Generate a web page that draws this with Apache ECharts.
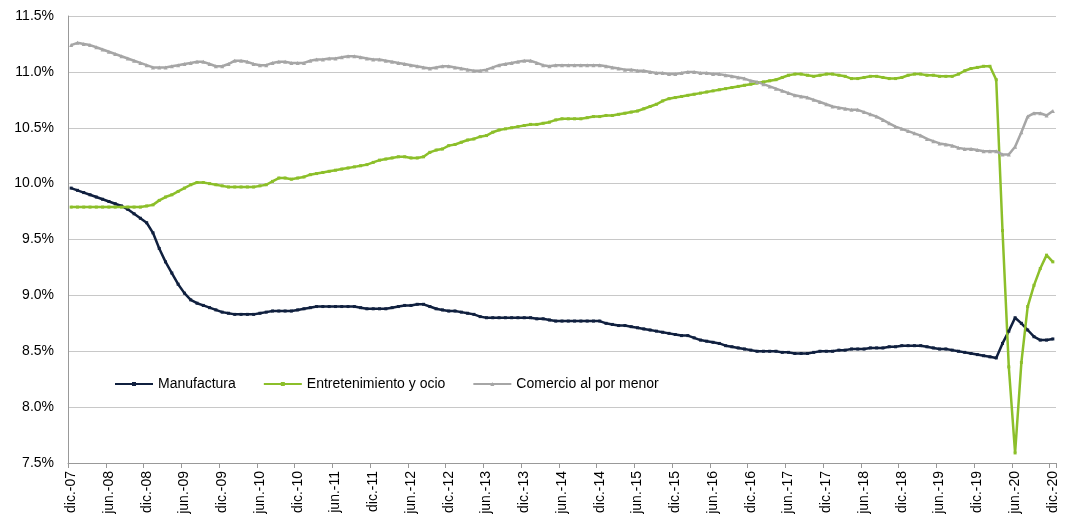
<!DOCTYPE html>
<html>
<head>
<meta charset="utf-8" />
<title>Sectores</title>
<script src="https://cdn.jsdelivr.net/npm/echarts@6/dist/echarts.min.js"></script>
<style>
  html, body { margin: 0; padding: 0; background: #fff; }
  #main { width: 1073px; height: 518px; }
</style>
</head>
<body>
<div id="main"></div>
<script>
// meses y años del eje (dic.-07 .. dic.-20)
const monthNames = ['ene.', 'feb.', 'mar.', 'abr.', 'may.', 'jun.', 'jul.', 'ago.', 'sep.', 'oct.', 'nov.', 'dic.'];
const years = ['08', '09', '10', '11', '12', '13', '14', '15', '16', '17', '18', '19', '20'];
const categories = ['dic.-07'];
years.forEach(y => monthNames.forEach(m => categories.push(m + '-' + y)));

const seriesNames = ['Manufactura', 'Entretenimiento y ocio', 'Comercio al por menor'];

// % del total
const manufactura = [
  9.96, 9.94, 9.92, 9.90, 9.88, 9.86, 9.84, 9.82, 9.80, 9.77, 9.73, 9.69, 9.65,
  9.56, 9.42, 9.30, 9.20, 9.10, 9.02, 8.96, 8.93, 8.91, 8.89, 8.87, 8.85,
  8.84, 8.83, 8.83, 8.83, 8.83, 8.84, 8.85, 8.86, 8.86, 8.86, 8.86, 8.87,
  8.88, 8.89, 8.90, 8.90, 8.90, 8.90, 8.90, 8.90, 8.90, 8.89, 8.88, 8.88,
  8.88, 8.88, 8.89, 8.90, 8.91, 8.91, 8.92, 8.92, 8.90, 8.88, 8.87, 8.86,
  8.86, 8.85, 8.84, 8.83, 8.81, 8.80, 8.80, 8.80, 8.80, 8.80, 8.80, 8.80,
  8.80, 8.79, 8.79, 8.78, 8.77, 8.77, 8.77, 8.77, 8.77, 8.77, 8.77, 8.77,
  8.75, 8.74, 8.73, 8.73, 8.72, 8.71, 8.70, 8.69, 8.68, 8.67, 8.66, 8.65,
  8.64, 8.64, 8.62, 8.60, 8.59, 8.58, 8.57, 8.55, 8.54, 8.53, 8.52, 8.51,
  8.50, 8.50, 8.50, 8.50, 8.49, 8.49, 8.48, 8.48, 8.48, 8.49, 8.50, 8.50,
  8.50, 8.51, 8.51, 8.52, 8.52, 8.52, 8.53, 8.53, 8.53, 8.54, 8.54, 8.55,
  8.55, 8.55, 8.55, 8.54, 8.53, 8.52, 8.52, 8.51, 8.50, 8.49, 8.48, 8.47,
  8.46, 8.45, 8.44, 8.57, 8.68, 8.80, 8.75, 8.69, 8.63, 8.60, 8.60, 8.61
];

const entretenimiento = [
  9.79, 9.79, 9.79, 9.79, 9.79, 9.79, 9.79, 9.79, 9.79, 9.79, 9.79, 9.79, 9.80,
  9.81, 9.85, 9.88, 9.90, 9.93, 9.96, 9.99, 10.01, 10.01, 10.00, 9.99, 9.98,
  9.97, 9.97, 9.97, 9.97, 9.97, 9.98, 9.99, 10.02, 10.05, 10.05, 10.04, 10.05,
  10.06, 10.08, 10.09, 10.10, 10.11, 10.12, 10.13, 10.14, 10.15, 10.16, 10.17, 10.19,
  10.21, 10.22, 10.23, 10.24, 10.24, 10.23, 10.23, 10.24, 10.28, 10.30, 10.31, 10.34,
  10.35, 10.37, 10.39, 10.40, 10.42, 10.43, 10.46, 10.48, 10.49, 10.50, 10.51, 10.52,
  10.53, 10.53, 10.54, 10.55, 10.57, 10.58, 10.58, 10.58, 10.58, 10.59, 10.60, 10.60,
  10.61, 10.61, 10.62, 10.63, 10.64, 10.65, 10.67, 10.69, 10.71, 10.74, 10.76, 10.77,
  10.78, 10.79, 10.80, 10.81, 10.82, 10.83, 10.84, 10.85, 10.86, 10.87, 10.88, 10.89,
  10.90, 10.91, 10.92, 10.93, 10.95, 10.97, 10.98, 10.98, 10.97, 10.96, 10.97, 10.98,
  10.98, 10.97, 10.96, 10.94, 10.94, 10.95, 10.96, 10.96, 10.95, 10.94, 10.94, 10.95,
  10.97, 10.98, 10.98, 10.97, 10.97, 10.96, 10.96, 10.96, 10.98, 11.01, 11.03, 11.04,
  11.05, 11.05, 10.93, 9.58, 8.36, 7.59, 8.40, 8.90, 9.09, 9.24, 9.36, 9.30
];

const comercio = [
  11.24, 11.26, 11.25, 11.24, 11.22, 11.20, 11.18, 11.16, 11.14, 11.12, 11.10, 11.08, 11.06,
  11.04, 11.04, 11.04, 11.05, 11.06, 11.07, 11.08, 11.09, 11.09, 11.07, 11.05, 11.05,
  11.07, 11.10, 11.10, 11.09, 11.07, 11.06, 11.06, 11.08, 11.09, 11.09, 11.08, 11.08,
  11.08, 11.10, 11.11, 11.11, 11.12, 11.12, 11.13, 11.14, 11.14, 11.13, 11.12, 11.11,
  11.11, 11.10, 11.09, 11.08, 11.07, 11.06, 11.05, 11.04, 11.03, 11.04, 11.05, 11.05,
  11.04, 11.03, 11.02, 11.01, 11.01, 11.02, 11.04, 11.06, 11.07, 11.08, 11.09, 11.10,
  11.10, 11.08, 11.06, 11.05, 11.06, 11.06, 11.06, 11.06, 11.06, 11.06, 11.06, 11.06,
  11.05, 11.04, 11.03, 11.02, 11.02, 11.01, 11.01, 11.00, 10.99, 10.99, 10.98, 10.98,
  10.99, 11.00, 11.00, 10.99, 10.99, 10.98, 10.98, 10.97, 10.96, 10.95, 10.94, 10.92,
  10.91, 10.89, 10.87, 10.85, 10.83, 10.81, 10.79, 10.78, 10.77, 10.75, 10.73, 10.71,
  10.69, 10.68, 10.67, 10.66, 10.66, 10.64, 10.62, 10.60, 10.57, 10.54, 10.51, 10.49,
  10.47, 10.45, 10.43, 10.40, 10.38, 10.36, 10.35, 10.34, 10.32, 10.31, 10.31, 10.30,
  10.29, 10.29, 10.29, 10.26, 10.26, 10.33, 10.46, 10.60, 10.63, 10.63, 10.61, 10.65
];

const colors = ['#10203f', '#8cbf2a', '#a6a6a6'];
const font = 'Liberation Sans, Arial, sans-serif';

function lineSeries(name, data, color, symbol, size) {
  return {
    name: name,
    type: 'line',
    data: data,
    symbol: symbol,
    symbolSize: size,
    showSymbol: true,
    lineStyle: { color: color, width: 2.5 },
    itemStyle: { color: color },
    emphasis: { disabled: true },
    animation: false
  };
}

const chart = echarts.init(document.getElementById('main'), null, { renderer: 'canvas' });

chart.setOption({
  animation: false,
  textStyle: { fontFamily: font },
  grid: { left: 68, right: 17, top: 16, bottom: 55 },
  legend: {
    left: 109,
    top: 372,
    itemWidth: 38,
    itemHeight: 5,
    itemGap: 27,
    textStyle: { fontSize: 14, color: '#000', fontFamily: font },
    data: seriesNames
  },
  xAxis: {
    type: 'category',
    data: categories,
    boundaryGap: true,
    axisLine: { lineStyle: { color: '#999', width: 1 } },
    axisTick: { show: true, interval: 5, length: 5, lineStyle: { color: '#999' } },
    axisLabel: {
      interval: 5,
      rotate: 90,
      fontSize: 14,
      color: '#000',
      margin: 8,
      fontFamily: font
    },
    splitLine: { show: false }
  },
  yAxis: {
    type: 'value',
    min: 7.5,
    max: 11.5,
    interval: 0.5,
    axisLine: { show: true, lineStyle: { color: '#999', width: 1 } },
    axisTick: { show: false },
    axisLabel: {
      fontSize: 14,
      color: '#000',
      margin: 14,
      fontFamily: font,
      formatter: v => v.toFixed(1) + '%'
    },
    splitLine: { lineStyle: { color: '#c8c8c8', width: 1 } }
  },
  series: [
    lineSeries(seriesNames[0], manufactura, colors[0], 'rect', 3),
    lineSeries(seriesNames[1], entretenimiento, colors[1], 'rect', 3),
    lineSeries(seriesNames[2], comercio, colors[2], 'triangle', 4)
  ]
});
</script>
</body>
</html>
